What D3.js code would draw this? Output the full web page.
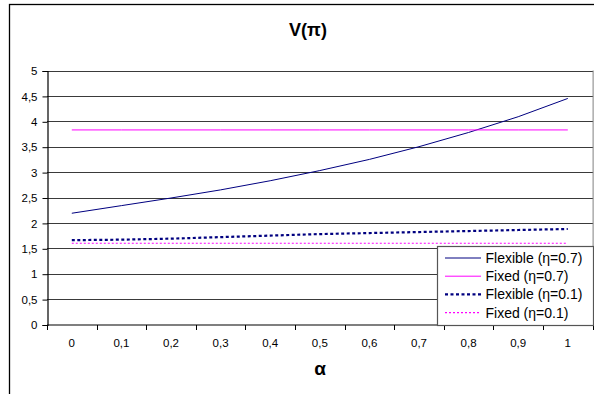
<!DOCTYPE html>
<html>
<head>
<meta charset="utf-8">
<script src="https://cdn.jsdelivr.net/npm/d3@7"></script>
<style>
body { margin: 0; background: #fff; }
text { font-family: "Liberation Sans", Arial, sans-serif; }
</style>
</head>
<body>
<div id="main"></div>
<script>
var ctx = {
    w: 594,
    h: 394,
    left: 47,
    right: 592.6,
    top: 70.5,
    bottom: 324.5
};

// data
var alphas = ["0", "0,1", "0,2", "0,3", "0,4", "0,5", "0,6", "0,7", "0,8", "0,9", "1"];
var flexible07 = [2.19, 2.34, 2.49, 2.65, 2.83, 3.03, 3.25, 3.50, 3.78, 4.09, 4.45];
var fixed07 = [3.83, 3.83, 3.83, 3.83, 3.83, 3.83, 3.83, 3.83, 3.83, 3.83, 3.83];
var flexible01 = [1.66, 1.67, 1.69, 1.72, 1.75, 1.78, 1.80, 1.82, 1.84, 1.86, 1.88];
var fixed01 = [1.60, 1.60, 1.60, 1.60, 1.60, 1.60, 1.60, 1.60, 1.60, 1.60, 1.60];
var yTicks = [0, 0.5, 1, 1.5, 2, 2.5, 3, 3.5, 4, 4.5, 5];
var seriesNames = ["Flexible (η=0.7)", "Fixed (η=0.7)", "Flexible (η=0.1)", "Fixed (η=0.1)"];

var series = [
    { name: seriesNames[0], values: flexible07, color: "#000080", width: 1, dash: null },
    { name: seriesNames[1], values: fixed07, color: "#ff00ff", width: 1, dash: null },
    { name: seriesNames[2], values: flexible01, color: "#000080", width: 2.2, dash: "3,2.5" },
    { name: seriesNames[3], values: fixed01, color: "#ff00ff", width: 1.1, dash: "2,2" }
];

var fmt = function(v) { return String(v).replace(".", ","); };

var svg = d3.select("#main").append("svg")
    .attr("width", ctx.w)
    .attr("height", ctx.h);

// outer chart frame (runs off right and bottom)
svg.append("rect")
    .attr("x", 9.5).attr("y", 4.5)
    .attr("width", 700).attr("height", 500)
    .attr("fill", "none").attr("stroke", "#000").attr("stroke-width", 1.3);

var x = d3.scaleBand().domain(alphas).range([ctx.left, ctx.right]).padding(0);
var y = d3.scaleLinear().domain([0, 5]).range([ctx.bottom, ctx.top]);

// gridlines
svg.append("g").selectAll("line")
    .data(yTicks.filter(function(d) { return d > 0; }))
    .enter().append("line")
    .attr("x1", ctx.left).attr("x2", ctx.right + 0.5)
    .attr("y1", function(d) { return Math.round(y(d)) + 0.5; })
    .attr("y2", function(d) { return Math.round(y(d)) + 0.5; })
    .attr("stroke", "#3a3a3a").attr("stroke-width", 1.2);

// plot area right edge
svg.append("line")
    .attr("x1", ctx.right + 0.5).attr("x2", ctx.right + 0.5)
    .attr("y1", ctx.top).attr("y2", ctx.bottom)
    .attr("stroke", "#808080").attr("stroke-width", 1);

// y axis
var yAxis = d3.axisLeft(y).tickValues(yTicks).tickSize(5).tickPadding(5).tickFormat(fmt);
var gy = svg.append("g").attr("transform", "translate(" + (ctx.left + 0.5) + ",0.5)").call(yAxis);
gy.select(".domain").attr("stroke", "#000").attr("stroke-width", 1.2);
gy.selectAll("text").attr("font-size", 11.5).attr("fill", "#000")
    .attr("font-family", "Liberation Sans, Arial, sans-serif");

// x axis: ticks between categories, labels centered
var gx = svg.append("g").attr("transform", "translate(0," + (ctx.bottom + 0.5) + ")");
gx.append("line").attr("x1", ctx.left).attr("x2", ctx.right + 1)
    .attr("stroke", "#000").attr("stroke-width", 1.2);
var bounds = alphas.map(function(d) { return x(d); }).concat([ctx.right]);
gx.selectAll(".tk").data(bounds).enter().append("line").attr("class", "tk")
    .attr("x1", function(d) { return Math.round(d) + 0.5; })
    .attr("x2", function(d) { return Math.round(d) + 0.5; })
    .attr("y1", 0).attr("y2", 5)
    .attr("stroke", "#000");
gx.selectAll(".lb").data(alphas).enter().append("text").attr("class", "lb")
    .attr("x", function(d) { return x(d) + x.bandwidth() / 2; })
    .attr("y", 22)
    .attr("text-anchor", "middle")
    .attr("font-size", 11.5)
    .text(function(d) { return d; });

// lines
var line = d3.line()
    .x(function(d, i) { return x(alphas[i]) + x.bandwidth() / 2; })
    .y(function(d) { return y(d); });

svg.append("g").selectAll("path")
    .data(series)
    .enter().append("path")
    .attr("d", function(s) { return line(s.values); })
    .attr("fill", "none")
    .attr("stroke", function(s) { return s.color; })
    .attr("stroke-width", function(s) { return s.width; })
    .attr("stroke-dasharray", function(s) { return s.dash; });

// title and axis label
svg.append("text")
    .attr("x", 308).attr("y", 36)
    .attr("text-anchor", "middle")
    .attr("font-size", 18).attr("font-weight", "bold")
    .text("V(π)");
svg.append("text")
    .attr("x", 320).attr("y", 375)
    .attr("text-anchor", "middle")
    .attr("font-size", 19).attr("font-weight", "bold")
    .text("α");

// legend
var lg = svg.append("g").attr("transform", "translate(437,246)");
lg.append("rect")
    .attr("x", 0.5).attr("y", 0.5)
    .attr("width", 156).attr("height", 79)
    .attr("fill", "#fff").attr("stroke", "#555").attr("stroke-width", 1.2);
var items = lg.selectAll(".item").data(series).enter().append("g").attr("class", "item")
    .attr("transform", function(d, i) { return "translate(0," + (12 + i * 18.2) + ")"; });
items.append("line")
    .attr("x1", 8).attr("x2", 44)
    .attr("y1", 0).attr("y2", 0)
    .attr("stroke", function(s) { return s.color; })
    .attr("stroke-width", function(s) { return s.width; })
    .attr("stroke-dasharray", function(s) { return s.dash; });
items.append("text")
    .attr("x", 48.5).attr("y", 5)
    .attr("font-size", 14)
    .text(function(s) { return s.name; });
</script>
</body>
</html>
